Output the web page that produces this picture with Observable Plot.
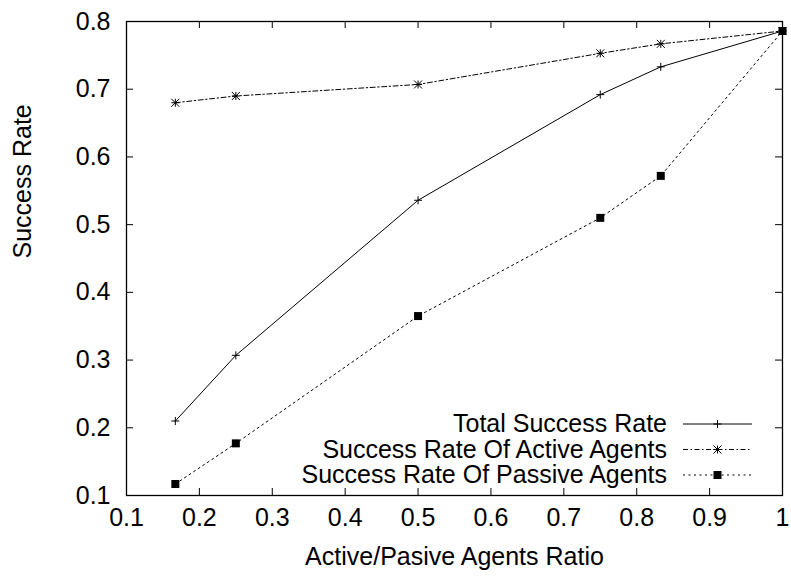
<!DOCTYPE html>
<html>
<head>
<meta charset="utf-8">
<script src="https://cdn.jsdelivr.net/npm/d3@7"></script>
<script src="https://cdn.jsdelivr.net/npm/@observablehq/plot@0.6"></script>
<style>
  html, body { margin: 0; padding: 0; background: #fff; }
</style>
</head>
<body>
<div id="chart"></div>
<script>
// Active/passive agent ratio on the x axis
const ratios = [0.167, 0.25, 0.5, 0.75, 0.833, 1];
// Success rates per series
const totalRate   = [0.210, 0.307, 0.536, 0.692, 0.733, 0.786];
const activeRate  = [0.680, 0.690, 0.707, 0.753, 0.767, 0.786];
const passiveRate = [0.117, 0.177, 0.365, 0.510, 0.572, 0.786];

const seriesNames = ["Total Success Rate", "Success Rate Of Active Agents", "Success Rate Of Passive Agents"];
const xTicks = [0.1, 0.2, 0.3, 0.4, 0.5, 0.6, 0.7, 0.8, 0.9, 1];
const yTicks = [0.1, 0.2, 0.3, 0.4, 0.5, 0.6, 0.7, 0.8];
const xTitle = "Active/Pasive Agents Ratio";
const yTitle = "Success Rate";

const W = 791, H = 577;
const mL = 126, mR = 9, mT = 21, mB = 82;
const frameW = W - mL - mR, frameH = H - mT - mB;
const tickLen = 7;
const font = "'Liberation Sans', Arial, Helvetica, sans-serif";
const fs = 25;

// gnuplot-style point shapes
const plusSym = {draw(ctx, size) {
  const r = Math.sqrt(size / Math.PI);
  ctx.moveTo(-r, 0); ctx.lineTo(r, 0);
  ctx.moveTo(0, -r); ctx.lineTo(0, r);
}};
const starSym = {draw(ctx, size) {
  const r = Math.sqrt(size / Math.PI);
  ctx.moveTo(-r, 0); ctx.lineTo(r, 0);
  ctx.moveTo(0, -r); ctx.lineTo(0, r);
  ctx.moveTo(-r, -r); ctx.lineTo(r, r);
  ctx.moveTo(-r, r); ctx.lineTo(r, -r);
}};
const squareSym = {draw(ctx, size) {
  const r = Math.sqrt(size / Math.PI);
  ctx.rect(-r, -r, 2 * r, 2 * r);
}};

const series = [
  {name: seriesNames[0], values: totalRate,   dash: null,          symbol: plusSym,   filled: false},
  {name: seriesNames[1], values: activeRate,  dash: "5,2.5,1.5,2.5", symbol: starSym, filled: false},
  {name: seriesNames[2], values: passiveRate, dash: "2,3.5",       symbol: squareSym, filled: true}
];
const tables = series.map(s => ratios.map((x, i) => ({x, y: s.values[i]})));

const marks = [];
// inward ticks on all four sides
marks.push(Plot.tickX(xTicks, {x: d => d, insetTop: frameH - tickLen, stroke: "black", strokeWidth: 1}));
marks.push(Plot.tickX(xTicks, {x: d => d, insetBottom: frameH - tickLen, stroke: "black", strokeWidth: 1}));
marks.push(Plot.tickY(yTicks, {y: d => d, insetRight: frameW - tickLen, stroke: "black", strokeWidth: 1}));
marks.push(Plot.tickY(yTicks, {y: d => d, insetLeft: frameW - tickLen, stroke: "black", strokeWidth: 1}));
// tick labels
marks.push(Plot.axisX(xTicks, {tickSize: 0, tickPadding: 13, tickFormat: d3.format("~g"), fill: "black", fontSize: fs}));
marks.push(Plot.axisY(yTicks, {tickSize: 0, tickPadding: 16, tickFormat: d3.format(".1f"), fill: "black", fontSize: fs}));
// axis titles
marks.push(Plot.text([xTitle], {text: d => d, frameAnchor: "bottom", dy: 61, lineAnchor: "middle", fill: "black", fontSize: fs}));
marks.push(Plot.text([yTitle], {text: d => d, frameAnchor: "left", dx: -104, rotate: -90, lineAnchor: "middle", fill: "black", fontSize: fs}));
// series
series.forEach((s, k) => {
  marks.push(Plot.line(tables[k], {x: "x", y: "y", stroke: "black", strokeWidth: 1, strokeDasharray: s.dash}));
  marks.push(Plot.dot(tables[k], {
    x: "x", y: "y", r: 4, symbol: () => s.symbol,
    fill: s.filled ? "black" : "none",
    stroke: s.filled ? "none" : "black",
    strokeWidth: 1
  }));
});
marks.push(Plot.frame({stroke: "black", strokeWidth: 1.3}));

const plot = Plot.plot({
  width: W, height: H,
  marginLeft: mL, marginRight: mR, marginTop: mT, marginBottom: mB,
  x: {domain: [0.1, 1], label: null},
  y: {domain: [0.1, 0.8], label: null},
  symbol: {type: "identity"},
  style: {fontFamily: font, fontSize: fs + "px", color: "black", background: "white"},
  marks
});

// key in the lower-right corner of the frame
const svg = d3.select(plot);
const key = svg.append("g").attr("font-family", font).attr("font-size", fs);
const frameRight = W - mR, frameBottom = H - mB;
series.forEach((s, k) => {
  const yRow = frameBottom - 71 + k * 25.5;
  key.append("text")
    .attr("x", frameRight - 115).attr("y", yRow + 8)
    .attr("text-anchor", "end").attr("fill", "black")
    .text(s.name);
  key.append("line")
    .attr("x1", frameRight - 99).attr("x2", frameRight - 30)
    .attr("y1", yRow).attr("y2", yRow)
    .attr("stroke", "black").attr("stroke-width", 1)
    .attr("stroke-dasharray", s.dash);
  key.append("path")
    .attr("transform", `translate(${frameRight - 64.5},${yRow})`)
    .attr("d", d3.symbol(s.symbol, 16 * Math.PI)())
    .attr("fill", s.filled ? "black" : "none")
    .attr("stroke", s.filled ? "none" : "black")
    .attr("stroke-width", 1);
});

document.getElementById("chart").appendChild(plot);
</script>
</body>
</html>
